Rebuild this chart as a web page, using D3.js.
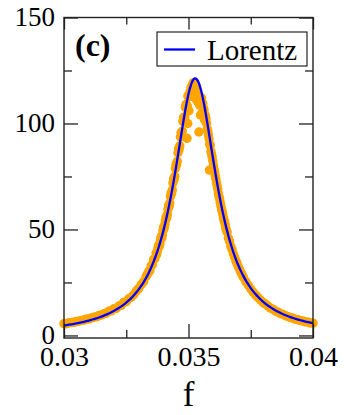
<!DOCTYPE html>
<html>
<head>
<meta charset="utf-8">
<script src="https://cdn.jsdelivr.net/npm/d3@7/dist/d3.min.js"></script>
<style>
  html, body { margin: 0; padding: 0; background: #fff; }
  svg { display: block; }
  text { font-family: "Liberation Serif", "Times New Roman", serif; fill: #000; }
</style>
</head>
<body>
<svg id="chart" width="344" height="415"></svg>
<script>
// ---- data ----
const dotF = [
  0.0300,0.0301,0.0302,0.0303,0.0304,0.0305,0.0306,0.0307,0.0308,0.0309,
  0.0310,0.0311,0.0312,0.0313,0.0314,0.0315,0.0316,0.0317,0.0318,0.0319,
  0.0320,0.0321,0.0322,0.0323,0.0324,0.0325,0.0326,0.0327,0.0328,0.0329,
  0.0330,0.0331,0.0332,0.0333,
  0.03335,0.03340,0.03345,0.03350,0.03355,0.03360,0.03365,0.03370,0.03375,0.03380,
  0.03385,0.03390,0.03395,0.03400,0.03405,0.03410,0.03415,0.03420,0.03425,0.03430,
  0.03435,0.03440,0.03445,0.03450,0.03455,0.03460,0.03465,0.03470,0.03475,0.03480,
  0.03485,0.03490,0.03495,0.03500,0.03505,0.03510,0.03515,0.03520,0.03525,0.03530,
  0.03535,0.03540,0.03545,0.03550,0.03555,0.03560,0.03565,0.03570,0.03575,0.03580,
  0.03585,0.03590,0.03595,0.03600,0.03605,0.03610,0.03615,0.03620,0.03625,0.03630,
  0.03635,0.03640,0.03645,0.03650,0.03655,0.03660,0.03665,0.03670,0.03675,0.03680,
  0.03685,0.03690,0.03695,0.03700,0.03705,0.03710,0.03715,
  0.0372,0.0373,0.0374,0.0375,0.0376,0.0377,0.0378,0.0379,0.0380,0.0381,
  0.0382,0.0383,0.0384,0.0385,0.0386,0.0387,0.0388,0.0389,0.0390,0.0391,
  0.0392,0.0393,0.0394,0.0395,0.0396,0.0397,0.0398,0.0399,0.0400,
  0.033725,0.033775,0.033825,0.033875,0.033925,0.033975,0.034025,0.034075,0.034125,0.034175,
  0.034225,0.034275,0.034325,0.034375,0.034425,0.034475,0.034525,0.034575,0.034625,0.034675,
  0.034725,0.034775,0.034825,0.034875,0.034925,0.034975,
  0.035525,0.035575,0.035625,0.035675,0.035725,0.035775,0.035825,0.035875,0.035925,0.035975,
  0.036025,0.036075,0.036125,0.036175,0.036225,0.036275,0.036325,0.036375,0.036425,0.036475,
  0.036525,
  0.03494,0.03497,0.03542,0.03584,0.03548,0.03538,0.03502,
  0.03515,0.03525,0.03535,0.03530
];
const dotV = [
  5.6,5.5,6.0,6.1,6.2,6.6,6.7,7.1,7.2,7.8,
  7.7,8.3,8.6,8.8,9.4,9.6,10.3,10.5,11.4,11.6,
  12.6,12.7,13.9,14.2,15.6,15.9,17.3,18.1,19.2,20.9,
  22.1,24.0,25.4,27.9,
  28.9,30.1,30.6,32.8,33.5,35.9,36.2,38.9,39.8,42.6,
  43.2,46.5,47.3,51.0,52.4,55.9,57.0,61.3,62.5,67.2,
  68.6,73.9,75.1,80.6,82.2,88.1,89.5,95.6,96.4,102.8,
  103.1,109.0,108.2,112.5,114.6,117.0,118.2,119.3,118.0,117.4,
  114.9,112.3,108.6,111.2,104.8,107.0,101.5,102.3,97.4,94.6,
  90.2,86.8,84.3,80.1,77.2,73.9,70.6,67.0,64.5,61.1,
  58.7,55.6,53.5,50.4,48.8,46.0,44.5,42.0,40.6,38.5,
  37.0,35.3,34.0,32.4,31.2,29.8,28.7,
  27.6,25.4,23.7,21.9,20.4,19.0,17.8,16.6,15.5,14.7,
  13.8,12.9,12.3,11.5,11.0,10.3,9.9,9.3,8.9,8.4,
  8.1,7.6,7.4,7.0,6.8,6.4,6.3,5.9,5.8,
  38.2,41.3,42.0,45.1,46.0,49.5,50.6,54.3,55.4,59.6,
  61.0,65.6,67.0,71.9,73.6,78.8,80.5,86.2,87.7,93.6,
  95.1,101.0,102.4,107.6,108.7,113.0,
  112.0,109.5,106.4,103.8,100.2,96.5,92.8,89.7,85.6,82.4,
  78.3,75.5,72.0,69.1,65.4,62.8,59.6,57.4,54.3,52.2,
  49.5,
  93.0,100.0,96.0,78.0,104.0,110.0,106.0,
  113.0,114.5,113.5,111.5
];
const fitF = [
  0.0300,0.0301,0.0302,0.0303,0.0304,0.0305,0.0306,0.0307,0.0308,0.0309,
  0.0310,0.0311,0.0312,0.0313,0.0314,0.0315,0.0316,0.0317,0.0318,0.0319,
  0.0320,0.0321,0.0322,0.0323,0.0324,0.0325,0.0326,0.0327,0.0328,0.0329,
  0.0330,0.0331,0.0332,0.0333,0.0334,0.0335,0.0336,0.0337,0.0338,0.0339,
  0.0340,0.0341,0.0342,0.0343,0.0344,0.0345,0.0346,0.0347,0.0348,0.0349,
  0.03495,0.0350,0.03505,0.0351,0.03515,0.0352,0.03525,0.0353,0.03535,0.0354,
  0.03545,0.0355,0.03555,0.0356,0.0357,0.0358,0.0359,0.0360,0.0361,0.0362,
  0.0363,0.0364,0.0365,0.0366,0.0367,0.0368,0.0369,0.0370,0.0371,0.0372,
  0.0373,0.0374,0.0375,0.0376,0.0377,0.0378,0.0379,0.0380,0.0381,0.0382,
  0.0383,0.0384,0.0385,0.0386,0.0387,0.0388,0.0389,0.0390,0.0391,0.0392,
  0.0393,0.0394,0.0395,0.0396,0.0397,0.0398,0.0399,0.0400
];
const fitV = [
  4.72,4.89,5.08,5.28,5.49,5.71,5.94,6.19,6.46,6.74,
  7.04,7.36,7.71,8.07,8.46,8.89,9.34,9.83,10.35,10.92,
  11.53,12.20,12.92,13.70,14.56,15.49,16.51,17.63,18.86,20.22,
  21.71,23.37,25.20,27.23,29.50,32.02,34.83,37.98,41.50,45.42,
  49.81,54.68,60.08,66.02,72.47,79.40,86.67,94.10,101.37,108.13,
  111.17,113.91,116.29,118.26,119.77,120.77,121.25,121.20,120.61,119.50,
  117.90,115.84,113.39,110.58,104.16,97.04,89.64,82.28,75.20,68.54,
  62.39,56.78,51.69,47.12,43.01,39.34,36.05,33.11,30.47,28.11,
  25.99,24.08,22.36,20.80,19.39,18.11,16.95,15.89,14.92,14.04,
  13.23,12.48,11.79,11.16,10.58,10.03,9.53,9.06,8.63,8.23,
  7.85,7.50,7.17,6.86,6.57,6.30,6.04,5.80
];
const xMajorTicks = [0.03, 0.035, 0.04];
const xTickLabels = ["0.03", "0.035", "0.04"];
const xMinorTicks = [0.0325, 0.0375];
const yMajorTicks = [0, 50, 100, 150];
const yTickLabels = ["0", "50", "100", "150"];
const yMinorTicks = [25, 75, 125];
const legendLabel = "Lorentz";
const panelLabel = "(c)";
const xTitle = "f";

// ---- layout ----
const L = 64, R = 313, T = 17.5, B = 338;
const svg = d3.select("#chart");

const x = d3.scaleLinear().domain([0.03, 0.04]).range([L, R]);
const y = d3.scaleLinear().domain([-1.2, 150]).range([B, T]);

// dots
svg.append("g")
  .selectAll("circle")
  .data(dotF.map((f, i) => [f, dotV[i]]))
  .join("circle")
  .attr("cx", d => x(d[0]))
  .attr("cy", d => y(d[1]))
  .attr("r", 4.7)
  .attr("fill", "#FFA500");

// fit line
const line = d3.line()
  .x(d => x(d[0]))
  .y(d => y(d[1]))
  .curve(d3.curveMonotoneX);
svg.append("path")
  .datum(fitF.map((f, i) => [f, fitV[i]]))
  .attr("d", line)
  .attr("fill", "none")
  .attr("stroke", "#0000FF")
  .attr("stroke-width", 2.3);

// axes (ticks inward on all sides)
const tickStroke = "#222";
function styleAxis(g) {
  g.select(".domain").remove();
  g.selectAll(".tick line").attr("stroke", tickStroke).attr("stroke-width", 1.3);
  g.selectAll("text").style("font-family", '"Liberation Serif", serif').style("font-size", "27px").attr("fill", "#000");
}
const majorLen = 14, minorLen = 8;

svg.append("g").attr("transform", `translate(0,${B})`)
  .call(d3.axisBottom(x).tickValues(xMajorTicks).tickSize(-majorLen).tickPadding(9)
    .tickFormat((d, i) => xTickLabels[i]))
  .call(styleAxis)
  .call(g => g.selectAll("text").style("font-size", "28px").attr("dy", "0.68em"));
svg.append("g").attr("transform", `translate(0,${B})`)
  .call(d3.axisBottom(x).tickValues(xMinorTicks).tickSize(-minorLen).tickFormat(""))
  .call(styleAxis);
svg.append("g").attr("transform", `translate(0,${T})`)
  .call(d3.axisTop(x).tickValues(xMajorTicks).tickSize(-majorLen + 2).tickFormat(""))
  .call(styleAxis);
svg.append("g").attr("transform", `translate(0,${T})`)
  .call(d3.axisTop(x).tickValues(xMinorTicks).tickSize(-minorLen + 1).tickFormat(""))
  .call(styleAxis);

svg.append("g").attr("transform", `translate(${L},0)`)
  .call(d3.axisLeft(y).tickValues(yMajorTicks).tickSize(-majorLen).tickPadding(9)
    .tickFormat((d, i) => yTickLabels[i]))
  .call(styleAxis)
  .call(g => g.selectAll("text").attr("dy", "0.30em"));
svg.append("g").attr("transform", `translate(${L},0)`)
  .call(d3.axisLeft(y).tickValues(yMinorTicks).tickSize(-minorLen).tickFormat(""))
  .call(styleAxis);
svg.append("g").attr("transform", `translate(${R},0)`)
  .call(d3.axisRight(y).tickValues(yMajorTicks).tickSize(-majorLen).tickFormat(""))
  .call(styleAxis);
svg.append("g").attr("transform", `translate(${R},0)`)
  .call(d3.axisRight(y).tickValues(yMinorTicks).tickSize(-minorLen).tickFormat(""))
  .call(styleAxis);

// frame
svg.append("rect")
  .attr("x", L).attr("y", T).attr("width", R - L).attr("height", B - T)
  .attr("fill", "none").attr("stroke", tickStroke).attr("stroke-width", 1.4);

// axis title
svg.append("text")
  .attr("x", x(0.035)).attr("y", 406)
  .attr("text-anchor", "middle")
  .style("font-size", "35px")
  .text(xTitle);

// panel label
svg.append("text")
  .attr("x", 75).attr("y", 56)
  .style("font-size", "32px").style("font-weight", "bold")
  .text(panelLabel);

// legend
const lg = svg.append("g");
lg.append("rect")
  .attr("x", 157).attr("y", 32).attr("width", 150).attr("height", 34)
  .attr("fill", "#fff").attr("stroke", "#111").attr("stroke-width", 1.1);
lg.append("line")
  .attr("x1", 164).attr("x2", 195).attr("y1", 49.5).attr("y2", 49.5)
  .attr("stroke", "#0000FF").attr("stroke-width", 2.3);
lg.append("text")
  .attr("x", 207).attr("y", 60)
  .style("font-size", "29px")
  .text(legendLabel);
</script>
</body>
</html>
